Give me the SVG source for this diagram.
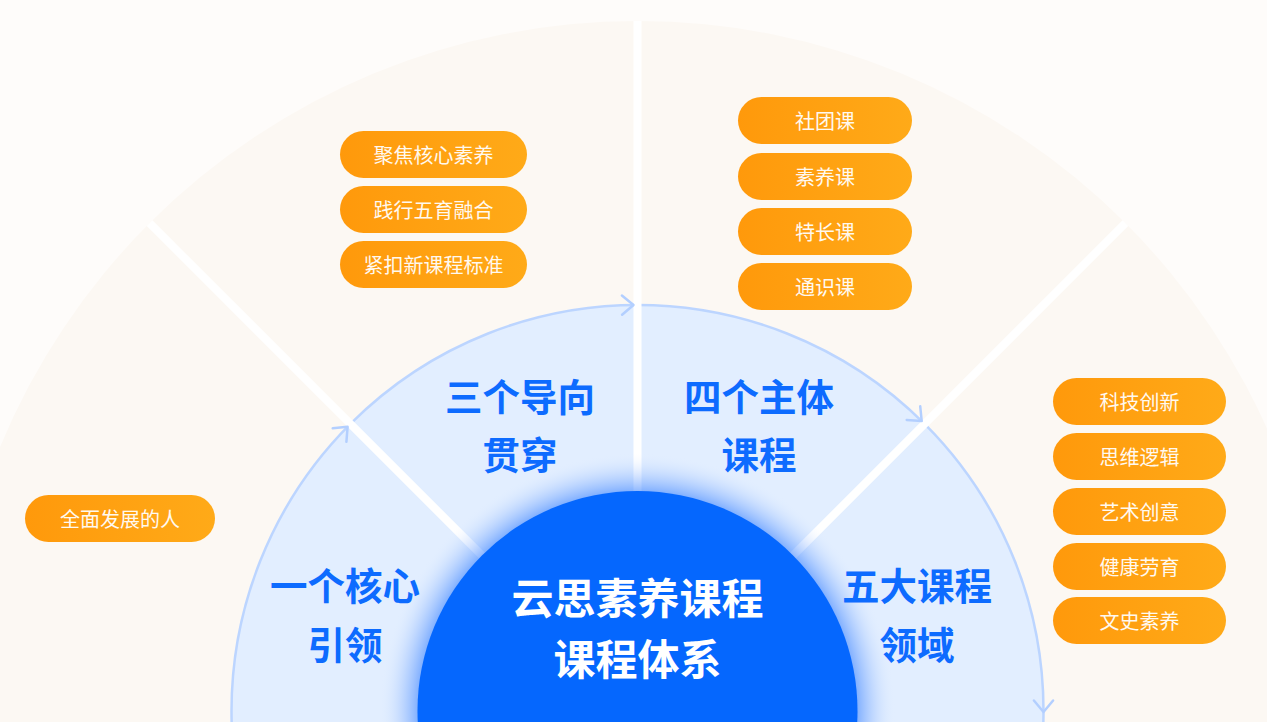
<svg xmlns="http://www.w3.org/2000/svg" width="1267" height="725" viewBox="0 0 1267 725">
  <defs>
    <linearGradient id="chipGrad" x1="0" y1="0" x2="1" y2="0">
      <stop offset="0" stop-color="#FF990B"/>
      <stop offset="1" stop-color="#FFAA18"/>
    </linearGradient>
    <radialGradient id="glow" cx="637.5" cy="711" r="258" gradientUnits="userSpaceOnUse">
      <stop offset="0.85" stop-color="#2F7BFF" stop-opacity="0.55"/>
      <stop offset="0.92" stop-color="#6FA3FF" stop-opacity="0.25"/>
      <stop offset="1" stop-color="#E2EEFF" stop-opacity="0"/>
    </radialGradient>
    <clipPath id="clip">
      <rect x="0" y="0" width="1267" height="722"/>
    </clipPath>
  </defs>
  <style>
    .chip { fill: url(#chipGrad); }
    .chipText { font-family: "Noto Sans CJK SC", "Noto Sans", sans-serif; font-size: 20px; fill: #FFF9F0; text-anchor: middle; }
    .ringText { font-family: "Noto Sans CJK SC", "Noto Sans", sans-serif; font-size: 37.5px; font-weight: 700; fill: #0D6BFF; text-anchor: middle; }
    .centerText { font-family: "Noto Sans CJK SC", "Noto Sans", sans-serif; font-size: 42px; font-weight: 700; fill: #FFFFFF; text-anchor: middle; }
    .divider { stroke: #FFFFFF; stroke-width: 8; fill: none; }
    .edge { stroke: #BCD5FF; stroke-width: 2.5; fill: none; }
    .arrow { stroke: #B3CFFF; stroke-width: 2.5; fill: none; stroke-linecap: round; stroke-linejoin: round; }
  </style>

  <rect x="0" y="0" width="1267" height="725" fill="#FEFCFA"/>

  <g clip-path="url(#clip)">
    <!-- outer fan -->
    <circle cx="637.5" cy="711" r="690" fill="#FCF8F3"/>
    <!-- middle ring -->
    <circle cx="637.5" cy="711" r="406" fill="#E2EEFF"/>
    <g id="connectors">
      <circle class="edge" cx="637.5" cy="711" r="406"/>
      <line class="divider" x1="637.5" y1="711" x2="637.5" y2="21"/>
      <line class="divider" x1="637.5" y1="711" x2="149.6" y2="223.1"/>
      <line class="divider" x1="637.5" y1="711" x2="1125.4" y2="223.1"/>
      <polyline class="arrow" points="332.7,428.3 347.6,426.8 346.4,441.8"/>
      <polyline class="arrow" points="621.9,295.5 633.5,305 622.1,314.8"/>
      <polyline class="arrow" points="920.2,406.2 921.7,421.1 906.7,419.9"/>
      <polyline class="arrow" points="1033.9,700.5 1043.5,712 1053.1,700.5"/>
    </g>
    <!-- glow around center -->
    <circle cx="637.5" cy="711" r="258" fill="url(#glow)"/>
    <g id="node-center">
      <circle cx="637.5" cy="711" r="220" fill="#0567FE"/>
      <text class="centerText" x="637.5" y="614">云思素养课程</text>
      <text class="centerText" x="637.5" y="675">课程体系</text>
    </g>
  </g>
  <rect x="0" y="722" width="1267" height="3" fill="#FFFFFF"/>

  <g id="node-core">
    <text class="ringText" x="345" y="600">一个核心</text>
    <text class="ringText" x="345" y="659">引领</text>
  </g>
  <g id="node-orientation">
    <text class="ringText" x="520" y="411">三个导向</text>
    <text class="ringText" x="520" y="469">贯穿</text>
  </g>
  <g id="node-subjects">
    <text class="ringText" x="759" y="411">四个主体</text>
    <text class="ringText" x="759" y="469">课程</text>
  </g>
  <g id="node-domains">
    <text class="ringText" x="917" y="600">五大课程</text>
    <text class="ringText" x="917" y="659">领域</text>
  </g>

  <g id="node-goal">
    <rect class="chip" x="25" y="495" width="190" height="47" rx="23.5"/>
    <text class="chipText" x="120" y="527">全面发展的人</text>
  </g>

  <g id="node-orientation-items">
    <rect class="chip" x="340" y="131" width="187" height="47" rx="23.5"/>
    <text class="chipText" x="433.5" y="163">聚焦核心素养</text>
    <rect class="chip" x="340" y="186" width="187" height="47" rx="23.5"/>
    <text class="chipText" x="433.5" y="218">践行五育融合</text>
    <rect class="chip" x="340" y="241" width="187" height="47" rx="23.5"/>
    <text class="chipText" x="433.5" y="273">紧扣新课程标准</text>
  </g>

  <g id="node-subject-items">
    <rect class="chip" x="738" y="97" width="174" height="47" rx="23.5"/>
    <text class="chipText" x="825" y="129">社团课</text>
    <rect class="chip" x="738" y="153" width="174" height="47" rx="23.5"/>
    <text class="chipText" x="825" y="185">素养课</text>
    <rect class="chip" x="738" y="208" width="174" height="47" rx="23.5"/>
    <text class="chipText" x="825" y="240">特长课</text>
    <rect class="chip" x="738" y="263" width="174" height="47" rx="23.5"/>
    <text class="chipText" x="825" y="295">通识课</text>
  </g>

  <g id="node-domain-items">
    <rect class="chip" x="1053" y="378" width="173" height="47" rx="23.5"/>
    <text class="chipText" x="1139.5" y="410">科技创新</text>
    <rect class="chip" x="1053" y="433" width="173" height="47" rx="23.5"/>
    <text class="chipText" x="1139.5" y="465">思维逻辑</text>
    <rect class="chip" x="1053" y="488" width="173" height="47" rx="23.5"/>
    <text class="chipText" x="1139.5" y="520">艺术创意</text>
    <rect class="chip" x="1053" y="543" width="173" height="47" rx="23.5"/>
    <text class="chipText" x="1139.5" y="575">健康劳育</text>
    <rect class="chip" x="1053" y="597" width="173" height="47" rx="23.5"/>
    <text class="chipText" x="1139.5" y="629">文史素养</text>
  </g>
</svg>
